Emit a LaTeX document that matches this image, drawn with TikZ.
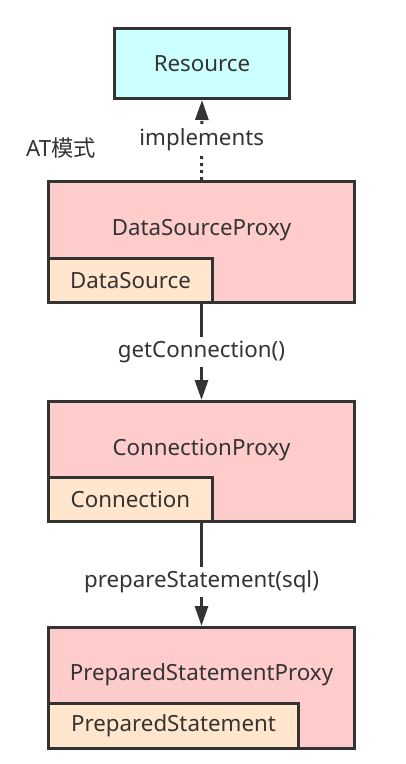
\documentclass[tikz,border=0pt]{standalone}
\usepackage{fontspec}
\setmainfont{Noto Sans}
\newfontfamily\cjk{Noto Sans CJK SC}
\usetikzlibrary{arrows.meta,positioning}
\definecolor{ink}{HTML}{333333}
\definecolor{resblue}{HTML}{CCFFFF}
\definecolor{proxypink}{HTML}{FFCCCC}
\definecolor{wrappeach}{HTML}{FFE6CC}
\begin{document}
\begin{tikzpicture}[x=1pt,y=-1pt,line width=3pt,
                    >={Triangle[length=20pt,width=13pt]},
                    font=\fontsize{22.3}{26}\selectfont]
 \tikzset{res/.style={draw=ink, fill=resblue, text=ink, minimum width=175pt, minimum height=70pt, anchor=north west, inner sep=0pt},
  proxy/.style={draw=ink, fill=proxypink, minimum width=306pt, minimum height=121pt, anchor=north west, inner sep=0pt},
  wrapbox/.style={draw=ink, fill=wrappeach, text=ink, minimum height=44pt, anchor=south west, inner sep=0pt},
  proxytext/.style={text=ink, inner sep=0pt},
  lbl/.style={fill=white, text=ink, inner sep=4pt},
  call/.style={->, draw=ink}}
  \useasboundingbox (0,0) rectangle (406,764);
  \node[res] (res) at (113,27) {Resource};
  \node[text=ink] (mode) at (61,148) {AT\cjk 模式};
  % proxies
  \node[proxy] (dsp) at (47,180) {};
  \node[proxytext] (dspname) at ([yshift=12pt]dsp.center) {DataSourceProxy};
  \node[wrapbox, minimum width=164pt] (ds) at (dsp.south west) {DataSource};
  \node[proxy, minimum height=120pt] (cp) at (47,400) {};
  \node[proxytext] (cpname) at ([yshift=12pt]cp.center) {ConnectionProxy};
  \node[wrapbox, minimum width=164pt] (conn) at (cp.south west) {Connection};
  \node[proxy] (psp) at (47,626) {};
  \node[proxytext] (pspname) at ([yshift=13pt]psp.center) {PreparedStatementProxy};
  \node[wrapbox, minimum width=250pt, minimum height=45pt] (ps) at (psp.south west) {PreparedStatement};
  % connectors
  \draw[call, dash pattern=on 3pt off 4pt] (dsp.north) -- node[lbl] {implements} (res.south);
  \draw[call] (dsp.south) -- node[lbl] {getConnection()} (cp.north);
  \draw[call] (cp.south) -- node[lbl, pos=0.57] {prepareStatement(sql)} (psp.north);
\end{tikzpicture}
\end{document}
